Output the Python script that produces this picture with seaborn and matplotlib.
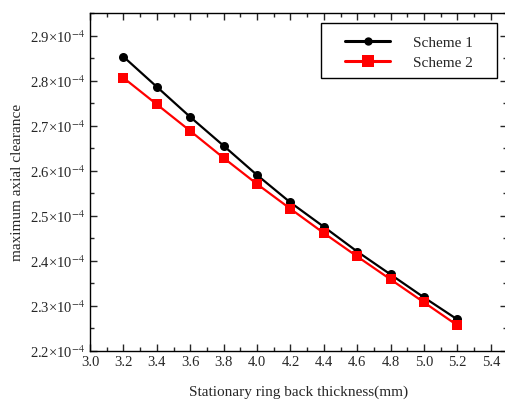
import matplotlib
matplotlib.use("Agg")
import matplotlib.pyplot as plt
from matplotlib.ticker import MultipleLocator, FuncFormatter
from matplotlib.patches import Rectangle
import seaborn as sns
import pandas as pd

# espesor del anillo (mm)
espesor = [3.2, 3.4, 3.6, 3.8, 4.0, 4.2, 4.4, 4.6, 4.8, 5.0, 5.2]
# holgura axial maxima (x1e-4)
scheme_1 = [2.854, 2.787, 2.720, 2.656, 2.591, 2.530, 2.476, 2.421, 2.370, 2.319, 2.270]
scheme_2 = [2.807, 2.748, 2.689, 2.629, 2.571, 2.516, 2.462, 2.410, 2.359, 2.308, 2.257]
esquemas = ['Scheme 1', 'Scheme 2']

df = pd.DataFrame({
    'x': espesor * 2,
    'y': [v * 1e-4 for v in scheme_1 + scheme_2],
    'esquema': [esquemas[0]] * len(espesor) + [esquemas[1]] * len(espesor),
})

sns.set_style('ticks')
plt.rcParams['font.family'] = ['Liberation Serif', 'DejaVu Serif']
plt.rcParams['mathtext.fontset'] = 'stix'

fig = plt.figure(figsize=(5.05, 4.0), dpi=100)
ax = fig.add_axes([90 / 505, 49 / 400, 417 / 505, 338 / 400])

sns.lineplot(data=df, x='x', y='y', hue='esquema', style='esquema',
             palette={'Scheme 1': 'black', 'Scheme 2': 'red'},
             markers={'Scheme 1': 'o', 'Scheme 2': 's'}, dashes=False,
             linewidth=1.6, markersize=6.5, markeredgewidth=0, ax=ax)

ax.set_xlim(3.0, 5.497)
ax.set_ylim(2.2e-4, 2.951e-4)
ax.xaxis.set_major_locator(MultipleLocator(0.2))
ax.xaxis.set_minor_locator(MultipleLocator(0.1))
ax.yaxis.set_major_locator(MultipleLocator(0.1e-4))
ax.yaxis.set_minor_locator(MultipleLocator(0.05e-4))
ax.xaxis.set_major_formatter(FuncFormatter(lambda v, p: f'{v:.1f}'))
ax.yaxis.set_major_formatter(FuncFormatter(lambda v, p: f'{v * 1e4:.1f}×10$^{{-4}}$'))
ax.tick_params(which='both', direction='in', top=True, right=True, width=1, labelsize=10.5)
ax.tick_params(which='major', length=5)
ax.tick_params(which='minor', length=3)
for s in ax.spines.values():
    s.set_linewidth(1)
    s.set_color('black')

ax.set_xlabel('Stationary ring back thickness(mm)', fontsize=11, labelpad=12)
ax.set_ylabel('maximum axial clearance', fontsize=11, labelpad=4)

# leyenda con marco propio
leg = ax.legend(title=None, loc='upper left', bbox_to_anchor=(345 / 505, 1 - 36 / 400),
                bbox_transform=fig.transFigure, fontsize=11, frameon=False,
                handlelength=2.95, handletextpad=1.5, borderpad=0, labelspacing=0.42,
                borderaxespad=0)
for h, ms in zip(leg.legend_handles, [6, 8.5]):
    h.set_markersize(ms)
    h.set_linewidth(2.2)
fig.add_artist(Rectangle((321 / 505, 1 - 78 / 400), 176 / 505, 55 / 400,
                         transform=fig.transFigure, fill=False,
                         edgecolor='black', linewidth=1))

fig.savefig('out.png', dpi=100)
